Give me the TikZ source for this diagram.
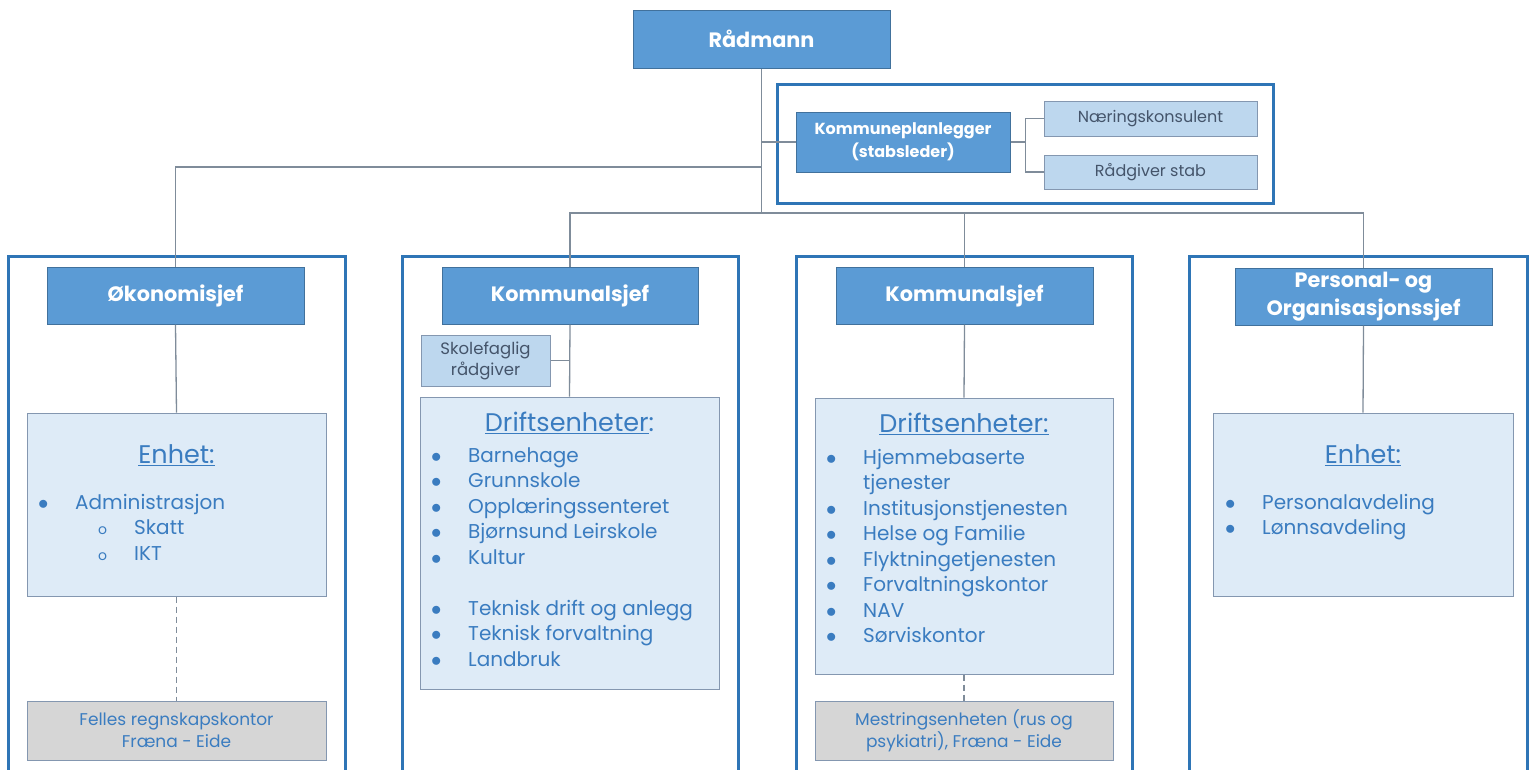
\documentclass[tikz,border=0pt]{standalone}
\usepackage{fontspec}
\setmainfont{Poppins}
\definecolor{headblue}{HTML}{5B9BD5}
\definecolor{headedge}{HTML}{41719C}
\definecolor{staffblue}{HTML}{BDD7EE}
\definecolor{unitblue}{HTML}{DEEBF7}
\definecolor{boxedge}{HTML}{8497B0}
\definecolor{sharedgray}{HTML}{D6D6D6}
\definecolor{frameblue}{HTML}{2E75B6}
\definecolor{textblue}{HTML}{3A7CC0}
\definecolor{darktext}{HTML}{44546A}
\definecolor{linkgray}{HTML}{7F8C9A}
\newcommand{\bul}[1]{\makebox[37pt][l]{$\bullet$}#1}
\newcommand{\subbul}[1]{\hspace*{60pt}\makebox[36pt][l]{\fontsize{14}{14}\selectfont o}#1}
\begin{document}
\begin{tikzpicture}[x=1pt,y=-1pt,
  chief/.style={rectangle, fill=headblue, draw=headedge, line width=1pt, text=white,
    font=\fontsize{20.8}{28}\selectfont\bfseries, align=center,
    minimum width=257, minimum height=57},
  staff/.style={rectangle, fill=staffblue, draw=boxedge, line width=1pt, text=darktext,
    font=\fontsize{16}{21}\selectfont, align=center},
  unit/.style={rectangle, fill=unitblue, draw=boxedge, line width=1pt,
    minimum width=299},
  shared/.style={rectangle, fill=sharedgray, draw=boxedge, line width=1pt, text=textblue,
    font=\fontsize{17}{22}\selectfont, align=center, minimum width=299, minimum height=59},
  unittitle/.style={text=textblue, font=\fontsize{25.5}{30}\selectfont},
  unitlist/.style={text=textblue, font=\fontsize{20}{25.5}\selectfont, align=left,
    anchor=north west, inner sep=0pt},
  frame/.style={draw=frameblue, line width=3pt},
  link/.style={draw=linkgray, line width=1.3pt}]
\useasboundingbox (0,0) rectangle (1534,769);

% frames
\draw[frame] (777,84) rectangle (1273,203);
\draw[frame] (8,256) rectangle (345,790);
\draw[frame] (402,256) rectangle (738,790);
\draw[frame] (796,256) rectangle (1132,790);
\draw[frame] (1189,256) rectangle (1527,790);

% top
\node [chief, minimum height=58] (radmann) at (761.5,39) {Rådmann};
\node [chief, font=\fontsize{16}{23}\selectfont\bfseries, minimum width=214, minimum height=60] (kplan) at (903,142) {Kommuneplanlegger\\(stabsleder)};
\node [staff, minimum width=213, minimum height=35] (naering) at (1150.5,118.5) {Næringskonsulent};
\node [staff, minimum width=213, minimum height=34] (rstab) at (1150.5,172) {Rådgiver stab};

% chiefs
\node [chief] (okon) at (175.5,295.5) {Økonomisjef};
\node [chief, minimum width=256] (ksjef1) at (570,295.5) {Kommunalsjef};
\node [chief] (ksjef2) at (964.5,295.5) {Kommunalsjef};
\node [chief, font=\fontsize{20.8}{28}\selectfont\bfseries] (psjef) at (1363.5,296.5) {Personal- og\\Organisasjonssjef};
\node [staff, font=\fontsize{16.5}{21}\selectfont, minimum width=129, minimum height=51] (skole) at (485.5,360.5) {Skolefaglig\\rådgiver};

% units
\node [unit, minimum height=183] (enhet1) at (176.5,504.5) {};
\node [unit, minimum height=292] (drift1) at (569.5,543) {};
\node [unit, minimum width=298, minimum height=276] (drift2) at (964,536) {};
\node [unit, minimum width=300, minimum height=183] (enhet2) at (1363,504.5) {};
\node [shared] (felles) at (176.5,730.5) {Felles regnskapskontor\\Fræna - Eide};
\node [shared, minimum width=298] (mestring) at (964,730.5) {Mestringsenheten (rus og\\psykiatri), Fræna - Eide};

% unit texts
\node [unittitle] (title1) at (176.5,455) {\underline{Enhet:}};
\node [unitlist] (list1) at (38,494) {\bul{Administrasjon}\\\subbul{Skatt}\\\subbul{IKT}};
\node [unittitle] (title2) at (569.5,423) {\underline{Driftsenheter}:};
\node [unitlist] (list2) at (431,447) {\bul{Barnehage}\\\bul{Grunnskole}\\\bul{Opplæringssenteret}\\\bul{Bjørnsund Leirskole}\\\bul{Kultur}\\[25.5pt]\bul{Teknisk drift og anlegg}\\\bul{Teknisk forvaltning}\\\bul{Landbruk}};
\node [unittitle] (title3) at (964,424) {\underline{Driftsenheter:}};
\node [unitlist] (list3) at (826,449) {\bul{Hjemmebaserte}\\\hspace*{37pt}tjenester\\\bul{Institusjonstjenesten}\\\bul{Helse og Familie}\\\bul{Flyktningetjenesten}\\\bul{Forvaltningskontor}\\\bul{NAV}\\\bul{Sørviskontor}};
\node [unittitle] (title4) at (1363,455) {\underline{Enhet:}};
\node [unitlist] (list4) at (1225,494) {\bul{Personalavdeling}\\\bul{Lønnsavdeling}};

% connectors
\coordinate (trunk) at (761.5,213);
\coordinate (branch) at (761.5,167);
\draw[link] (radmann.south) -- (trunk);
\draw[link] (kplan.west) -- (kplan.west -| radmann.south);
\draw[link] (okon.north) |- (branch);
\draw[link] (ksjef1.north) |- (trunk) -| (psjef.north);
\draw[link] (ksjef2.north) -- (ksjef2.north |- trunk);
\draw[link] (kplan.east) -- ++(15,0) |- (naering.west);
\draw[link] (kplan.east) -- ++(15,0) |- (rstab.west);
\draw[link] (okon.south) -- (enhet1.north);
\draw[link] (ksjef1.south) -- (drift1.north);
\draw[link] (skole.east) -- (skole.east -| ksjef1.south);
\draw[link] (ksjef2.south) -- (drift2.north);
\draw[link] (psjef.south) -- (enhet2.north);
\draw[link, dash pattern=on 6pt off 4pt] (enhet1.south) -- (felles.north);
\draw[link, dash pattern=on 6pt off 4pt] (drift2.south) -- (mestring.north);
\end{tikzpicture}
\end{document}
